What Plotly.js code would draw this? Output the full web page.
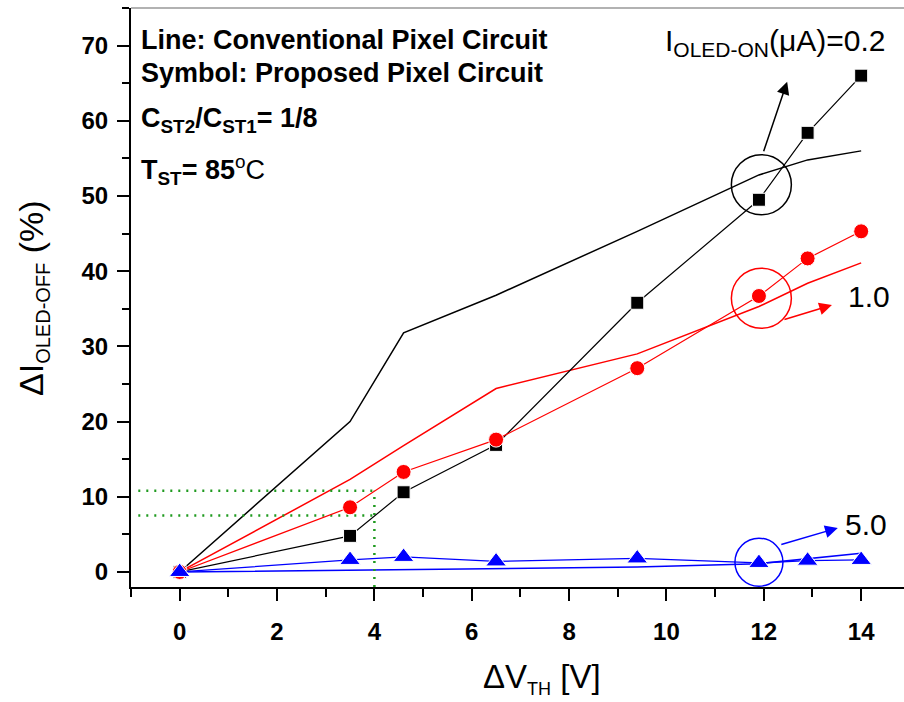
<!DOCTYPE html>
<html><head><meta charset="utf-8">
<script src="https://cdn.plot.ly/plotly-3.0.1.min.js"></script>
<style>html,body{margin:0;padding:0;background:#fff}#chart{width:904px;height:702px}</style>
</head><body><div id="chart"></div>
<script>
// ΔV_TH values (V)
const vth = [0, 3.5, 4.6, 6.5, 9.4, 11.9, 12.9, 14];
// Conventional pixel circuit (lines)
const convI02 = [0, 20.0, 31.8, 36.8, 45.3, 52.8, 54.8, 56.0];
const convI10 = [0, 12.3, 16.8, 24.4, 29.0, 35.3, 38.4, 41.1];
const convI50 = [0, 0.25, 0.3, 0.4, 0.65, 1.1, 1.8, 2.5];
// Proposed pixel circuit (symbols)
const propI02 = [0, 4.8, 10.6, 16.9, 35.8, 49.5, 58.4, 66.0];
const propI10 = [0, 8.6, 13.3, 17.6, 27.1, 36.7, 41.7, 45.3];
const propI50 = [0, 1.6, 2.0, 1.4, 1.8, 1.2, 1.5, 1.6];
// Green guide lines
const guideX = 4;
const guideY = [7.5, 10.8];
const guideXStart = -0.85;
// Tick values
const xTicks = [0, 2, 4, 6, 8, 10, 12, 14];
const yTicks = [0, 10, 20, 30, 40, 50, 60, 70];

const FONT = 'Liberation Sans, Arial, sans-serif';
const traces = [];
// conventional lines
traces.push({x: vth, y: convI02, mode: 'lines', line: {color: '#000', width: 1.5}});
traces.push({x: vth, y: convI10, mode: 'lines', line: {color: '#ff0000', width: 1.5}});
traces.push({x: vth, y: convI50, mode: 'lines', line: {color: '#0000ff', width: 1.5}});
// guides
const GREEN = {color: '#1f9a1f', width: 2.5, dash: '2px,6px'};
guideY.forEach(g => traces.push({x: [guideXStart, guideX], y: [g, g], mode: 'lines', line: GREEN}));
traces.push({x: [guideX, guideX], y: [-2, Math.max(...guideY)], mode: 'lines', line: GREEN});
// proposed symbols
const halo = {color: '#fff', width: 1};
traces.push({x: vth, y: propI02, mode: 'lines+markers', line: {color: '#000', width: 1.2}, marker: {symbol: 'square', size: 13, color: '#000', line: halo}});
traces.push({x: vth, y: propI10, mode: 'lines+markers', line: {color: '#ff0000', width: 1.2}, marker: {symbol: 'circle', size: 15, color: '#ff0000', line: halo}});
traces.push({x: vth, y: propI50, mode: 'lines+markers', line: {color: '#0000ff', width: 1.2}, marker: {symbol: 'triangle-up', size: 18, color: '#0000ff', line: halo}});

function circ(cx, cy, r, color) {
  return {type: 'circle', xref: 'x', yref: 'y', xsizemode: 'pixel', ysizemode: 'pixel',
    xanchor: cx, yanchor: cy, x0: -r, x1: r, y0: -r, y1: r, line: {color: color, width: 1.5}};
}
function arrow(x, y, ax, ay, color) {
  return {x: x, y: y, ax: ax, ay: ay, xref: 'x', yref: 'y', showarrow: true, arrowhead: 2,
    arrowsize: 1.7, arrowwidth: 1.5, arrowcolor: color, text: ''};
}
function txt(x, y, t, size, bold, anchor) {
  return {x: x, y: y, xref: 'x', yref: 'y', text: t, showarrow: false, xanchor: anchor || 'left', yanchor: 'middle',
    font: {family: FONT, size: size, color: '#000', weight: bold ? 'bold' : 'normal'}};
}

const layout = {
  width: 904, height: 702,
  margin: {l: 131, r: 0, t: 8, b: 115},
  paper_bgcolor: '#fff', plot_bgcolor: '#fff',
  showlegend: false,
  xaxis: {
    range: [-1, 14.88], tickvals: xTicks, ticks: 'outside', ticklen: 12, tickwidth: 2, tickcolor: '#000',
    showline: true, linecolor: '#000', linewidth: 2, showgrid: false, zeroline: false, ticklabelstandoff: 10,
    minor: {dtick: 1, tick0: 0, ticks: 'outside', ticklen: 8, tickwidth: 2, tickcolor: '#000', showgrid: false},
    tickfont: {family: FONT, size: 24, color: '#000', weight: 'bold'}
  },
  yaxis: {
    range: [-2, 75], tickvals: yTicks, ticks: 'outside', ticklen: 12, tickwidth: 2, tickcolor: '#000',
    showline: true, linecolor: '#000', linewidth: 2, showgrid: false, zeroline: false, ticklabelstandoff: 4,
    minor: {dtick: 5, tick0: 0, ticks: 'outside', ticklen: 7, tickwidth: 2, tickcolor: '#000', showgrid: false},
    tickfont: {family: FONT, size: 24, color: '#000', weight: 'bold'}
  },
  shapes: [
    {type: 'line', xref: 'paper', yref: 'paper', x0: 0, x1: 1, y0: 1, y1: 1, line: {color: '#999', width: 1.5}},
    circ(11.95, 51.5, 30, '#000'),
    circ(11.95, 36.4, 30, '#ff0000'),
    circ(11.9, 1.3, 24, '#0000ff')
  ],
  annotations: [
    arrow(12.48, 65.2, -24, 71, '#000'),
    arrow(13.4, 35.5, -49, 15, '#ff0000'),
    arrow(13.52, 5.85, -58, 17, '#0000ff'),
    txt(12.25, 70.4, 'I<sub>OLED-ON</sub>(μA)=0.2', 30, false, 'center'),
    txt(14.16, 36.6, '1.0', 30, false, 'center'),
    txt(14.1, 6.25, '5.0', 30, false, 'center'),
    txt(-0.84, 70.8, 'Line: Conventional Pixel Circuit', 27, true),
    txt(-0.84, 66.3, 'Symbol: Proposed Pixel Circuit', 27, true),
    txt(-0.84, 60.1, 'C<sub>ST2</sub>/C<sub>ST1</sub>= 1/8', 27, true),
    txt(-0.84, 53.4, 'T<sub>ST</sub>= 85<span style="font-weight:normal"><sup>o</sup>C</span>', 27, true),
    // axis titles
    {xref: 'paper', yref: 'paper', x: (542 - 131) / 773, y: (587 - 678) / 579, xanchor: 'center', yanchor: 'middle',
     showarrow: false, text: 'ΔV<sub><span style="font-size:18px">TH</span></sub> [V]',
     font: {family: FONT, size: 33, color: '#000'}},
    {xref: 'paper', yref: 'paper', x: (33 - 131) / 773, y: (587 - 298) / 579, xanchor: 'center', yanchor: 'middle',
     textangle: -90, showarrow: false, text: 'ΔI<sub><span style="font-size:20px">OLED-OFF</span></sub> (%)',
     font: {family: FONT, size: 34, color: '#000'}}
  ]
};
Plotly.newPlot('chart', traces, layout, {displayModeBar: false, staticPlot: true});
</script></body></html>
